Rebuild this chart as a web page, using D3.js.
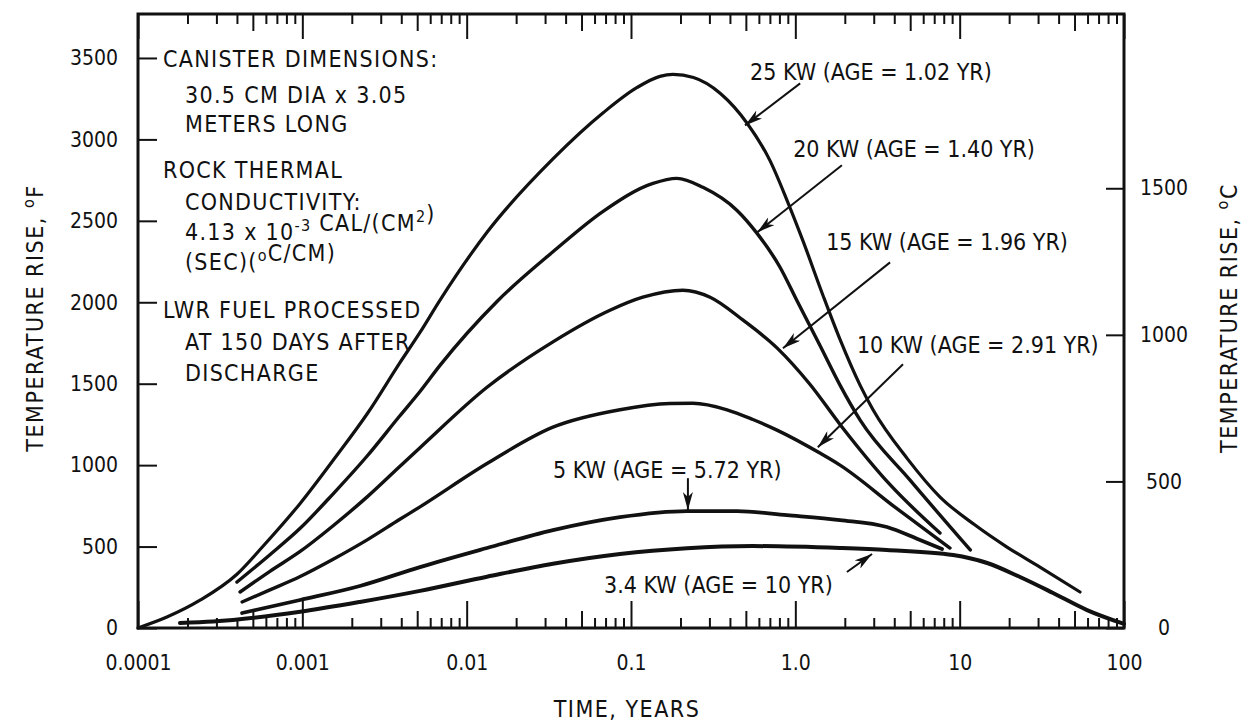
<!DOCTYPE html>
<html>
<head>
	<meta charset="utf-8">
	<title>Temperature rise</title>
	<style>
	body { margin:0; background:#fff; }
	svg { display:block; }
	text { font-family:"Liberation Sans Narrow", "Arial Narrow", "DejaVu Sans Condensed", sans-serif; fill:#111; }
	.tick text { font-size:21px; }
	.note { font-size:23px; letter-spacing:1.3px; }
	.curvelabel { font-size:23px; }
	.title { font-size:23px; letter-spacing:1.5px; }
	.tick line { stroke:#111; stroke-width:2; }
	.curve { fill:none; stroke:#111; stroke-linecap:round; }
	.pointer { stroke:#111; stroke-width:2; }
	</style>
</head>
<body>
	<script src="https://cdn.jsdelivr.net/npm/d3@7"></script>
	<script>
	// DATA  (time in years, temperature rise in deg F)
	var yTicksF = [0, 500, 1000, 1500, 2000, 2500, 3000, 3500];
	var yTicksC = [0, 500, 1000, 1500];
	var xDecades = [0.0001, 0.001, 0.01, 0.1, 1, 10, 100];
	var xTickLabels = ["0.0001", "0.001", "0.01", "0.1", "1.0", "10", "100"];
	var minorSteps = [2, 3, 4, 6, 7, 8, 9];

	var kw25Time = [0.0001, 0.00015, 0.00024, 0.0004, 0.00058, 0.00097, 0.00154, 0.0025, 0.0039, 0.0052, 0.0069, 0.0133, 0.0335, 0.068, 0.109, 0.15, 0.18, 0.24, 0.35, 0.51, 0.70, 0.89, 1.11, 1.47, 1.87, 2.48, 2.97, 4.8, 7.6, 12.4, 19.4, 30.8, 54];
	var kw25Temp = [0, 67, 172, 330, 505, 765, 1030, 1320, 1625, 1815, 2015, 2430, 2880, 3165, 3319, 3387, 3399, 3380, 3282, 3098, 2871, 2626, 2380, 2045, 1772, 1490, 1340, 1040, 804, 632, 497, 374, 221];

	var kw20Time = [0.0004, 0.000635, 0.00097, 0.00154, 0.00248, 0.0039, 0.0052, 0.0069, 0.0153, 0.0335, 0.068, 0.136, 0.19, 0.274, 0.442, 0.585, 0.807, 1.02, 1.41, 1.87, 2.48, 4.99, 11.6];
	var kw20Temp = [282, 450, 612, 824, 1056, 1300, 1452, 1614, 2005, 2310, 2560, 2730, 2761, 2706, 2564, 2423, 2215, 2012, 1736, 1491, 1276, 908, 479];

	var kw15Time = [0.000418, 0.000635, 0.00097, 0.00154, 0.00248, 0.0039, 0.0052, 0.0133, 0.0335, 0.0745, 0.118, 0.207, 0.303, 0.481, 0.773, 1.23, 1.87, 3.77, 7.59];
	var kw15Temp = [221, 348, 470, 628, 805, 990, 1107, 1478, 1757, 1951, 2031, 2074, 2031, 1890, 1720, 1495, 1250, 880, 583];

	var kw10Time = [0.00043, 0.000635, 0.00097, 0.00154, 0.00248, 0.0039, 0.0052, 0.0133, 0.0335, 0.0857, 0.173, 0.238, 0.384, 0.552, 0.773, 1.41, 1.87, 4.04, 8.73];
	var kw10Temp = [160, 234, 316, 422, 541, 666, 744, 1010, 1233, 1340, 1378, 1380, 1340, 1280, 1215, 1074, 1000, 742, 491];

	var kw5Time = [0.00043, 0.00097, 0.00224, 0.0052, 0.0133, 0.0335, 0.0857, 0.219, 0.442, 0.889, 1.87, 3.61, 5.74, 7.81];
	var kw5Temp = [92, 172, 258, 374, 491, 601, 681, 718, 718, 693, 663, 620, 540, 485];

	var kw34Time = [0.00018, 0.000286, 0.00097, 0.00224, 0.0052, 0.0133, 0.0335, 0.0857, 0.219, 0.552, 1.87, 3.61, 9.12, 14.7, 23.3, 37.0, 59.6, 100];
	var kw34Temp = [31, 40, 100, 160, 228, 315, 395, 455, 490, 503, 491, 479, 448, 399, 313, 215, 110, 25];

	var series = [
		{time: kw25Time, temp: kw25Temp, w: 3.2},
		{time: kw20Time, temp: kw20Temp, w: 3.4},
		{time: kw15Time, temp: kw15Temp, w: 3.4},
		{time: kw10Time, temp: kw10Temp, w: 3.4},
		{time: kw5Time, temp: kw5Temp, w: 3.8},
		{time: kw34Time, temp: kw34Temp, w: 4}
	];

	// labels and pointers, anchored in data units
	var curveNotes = [
		{text: "25 KW (AGE = 1.02 YR)", at: [0.53, 3362], from: [1.07, 3344], to: [0.494, 3086]},
		{text: "20 KW (AGE = 1.40 YR)", at: [0.97, 2890], from: [1.92, 2841], to: [0.585, 2429]},
		{text: "15 KW (AGE = 1.96 YR)", at: [1.54, 2319], from: [3.77, 2245], to: [0.841, 1718]},
		{text: "10 KW (AGE = 2.91 YR)", at: [2.37, 1687], from: [4.52, 1620], to: [1.37, 1110]},
		{text: "5 KW (AGE = 5.72 YR)", at: [0.0335, 920], from: [0.222, 920], to: [0.222, 724]},
		{text: "3.4 KW (AGE = 10 YR)", at: [0.0686, 215], from: [2.06, 344], to: [2.93, 454]}
	];

	var noteLines = [
		{indent: 0, dy: 67, parts: [["CANISTER DIMENSIONS:"]]},
		{indent: 1, dy: 103, parts: [["30.5 CM DIA x 3.05"]]},
		{indent: 1, dy: 132, parts: [["METERS LONG"]]},
		{indent: 0, dy: 178, parts: [["ROCK THERMAL"]]},
		{indent: 1, dy: 210, parts: [["CONDUCTIVITY:"]]},
		{indent: 1, dy: 240, parts: [["4.13 x 10"], ["-3", "sup"], [" CAL/(CM"], ["2", "sup"], [")"]]},
		{indent: 1, dy: 270, parts: [["(SEC)("], ["o", "sup"], ["C/CM)"]]},
		{indent: 0, dy: 318, parts: [["LWR FUEL PROCESSED"]]},
		{indent: 1, dy: 350, parts: [["AT 150 DAYS AFTER"]]},
		{indent: 1, dy: 381, parts: [["DISCHARGE"]]}
	];

	var margin = {top: 14, right: 120, bottom: 93, left: 138};
	var width = 1244 - margin.left - margin.right;
	var height = 721 - margin.top - margin.bottom;

	var x = d3.scaleLog().domain([0.0001, 100]).range([0, width]);
	var y = d3.scaleLinear().domain([0, 3770]).range([height, 0]);
	var yC = d3.scaleLinear().domain([0, 3770 / 1.8]).range([height, 0]);

	var svg = d3.select("body").append("svg")
		.attr("width", width + margin.left + margin.right)
		.attr("height", height + margin.top + margin.bottom);

	svg.append("defs").append("marker")
		.attr("id", "arrow")
		.attr("viewBox", "0 0 18 10")
		.attr("refX", 18).attr("refY", 5)
		.attr("markerWidth", 18).attr("markerHeight", 10)
		.attr("markerUnits", "userSpaceOnUse")
		.attr("orient", "auto")
		.append("path")
		.attr("d", "M0,0 L18,5 L0,10 L5,5 Z")
		.attr("fill", "#111");

	var g = svg.append("g")
		.attr("transform", "translate(" + margin.left + "," + margin.top + ")");

	// minor tick values on the log axis
	var minorTicks = [], midTicks = [];
	xDecades.slice(0, -1).forEach(function(d) {
		minorSteps.forEach(function(k) { minorTicks.push(d * k); });
		midTicks.push(d * 5);
	});

	function noDomain(sel) { sel.select(".domain").remove(); }

	// bottom axis
	g.append("g").attr("transform", "translate(0," + height + ")")
		.call(d3.axisBottom(x).tickValues(xDecades).tickSize(-27).tickPadding(27)
			.tickFormat(function(d, i) { return xTickLabels[i]; }))
		.call(noDomain);
	g.append("g").attr("transform", "translate(0," + height + ")")
		.call(d3.axisBottom(x).tickValues(minorTicks).tickSize(-10).tickFormat(""))
		.call(noDomain);
	g.append("g").attr("transform", "translate(0," + height + ")")
		.call(d3.axisBottom(x).tickValues(midTicks).tickSize(-17).tickFormat(""))
		.call(noDomain);

	// top axis
	g.append("g")
		.call(d3.axisTop(x).tickValues(xDecades).tickSize(-25).tickFormat(""))
		.call(noDomain);
	g.append("g")
		.call(d3.axisTop(x).tickValues(minorTicks).tickSize(-10).tickFormat(""))
		.call(noDomain);
	g.append("g")
		.call(d3.axisTop(x).tickValues(midTicks).tickSize(-17).tickFormat(""))
		.call(noDomain);

	// left axis (deg F)
	g.append("g")
		.call(d3.axisLeft(y).tickValues(yTicksF).tickSize(-19).tickPadding(20).tickFormat(d3.format("d")))
		.call(noDomain);

	// right axis (deg C)
	var right = g.append("g").attr("transform", "translate(" + width + ",0)")
		.call(d3.axisRight(yC).tickValues(yTicksC).tickSize(-18).tickFormat(d3.format("d")))
		.call(noDomain);
	right.selectAll(".tick text").attr("text-anchor", "middle").attr("x", 40);

	g.selectAll(".tick text").attr("font-family", null).attr("font-size", null).attr("fill", "#111");

	// frame
	g.append("rect")
		.attr("width", width).attr("height", height)
		.attr("fill", "none").attr("stroke", "#111").attr("stroke-width", 3);

	// curves
	var line = d3.line()
		.x(function(d) { return x(d[0]); })
		.y(function(d) { return y(d[1]); })
		.curve(d3.curveMonotoneX);

	g.selectAll("path.curve")
		.data(series)
		.enter().append("path")
		.attr("class", "curve")
		.attr("stroke-width", function(d) { return d.w; })
		.attr("d", function(d) {
			return line(d.time.map(function(t, i) { return [t, d.temp[i]]; }));
		});

	// curve labels and pointers
	g.selectAll("text.curvelabel")
		.data(curveNotes)
		.enter().append("text")
		.attr("class", "curvelabel")
		.attr("x", function(d) { return x(d.at[0]); })
		.attr("y", function(d) { return y(d.at[1]); })
		.text(function(d) { return d.text; });

	g.selectAll("line.pointer")
		.data(curveNotes)
		.enter().append("line")
		.attr("class", "pointer")
		.attr("x1", function(d) { return x(d.from[0]); })
		.attr("y1", function(d) { return y(d.from[1]); })
		.attr("x2", function(d) { return x(d.to[0]); })
		.attr("y2", function(d) { return y(d.to[1]); })
		.attr("marker-end", "url(#arrow)");

	// notes block
	var notes = svg.selectAll("text.note")
		.data(noteLines)
		.enter().append("text")
		.attr("class", "note")
		.attr("x", function(d) { return margin.left + 25 + d.indent * 22; })
		.attr("y", function(d) { return d.dy; });
	notes.each(function(d) {
		var t = d3.select(this);
		d.parts.forEach(function(p) {
			var s = t.append("tspan").text(p[0]);
			if (p[1] == "sup") {
				s.attr("dy", -9).attr("font-size", "16px");
				t.append("tspan").attr("dy", 9).text("");
			}
		});
	});

	// axis titles
	svg.append("text").attr("class", "title")
		.attr("x", 627).attr("y", 717)
		.attr("text-anchor", "middle")
		.text("TIME, YEARS");

	function sideTitle(xpos, unit) {
		var t = svg.append("text").attr("class", "title")
			.attr("transform", "translate(" + xpos + ",318) rotate(-90)")
			.attr("text-anchor", "middle");
		t.append("tspan").text("TEMPERATURE RISE, ");
		t.append("tspan").attr("dy", -9).attr("font-size", "16px").text("o");
		t.append("tspan").attr("dy", 9).text(unit);
	}
	sideTitle(43, "F");
	sideTitle(1237, "C");
	</script>
</body>
</html>
